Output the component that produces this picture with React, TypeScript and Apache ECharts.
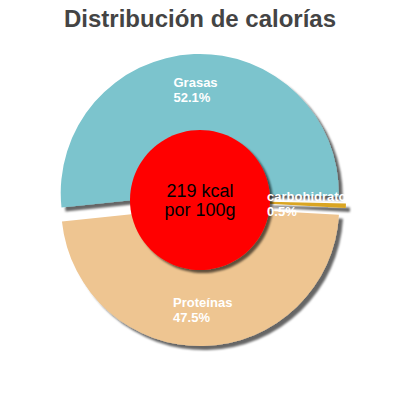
import { useEffect, useRef } from 'react';
import * as echarts from 'echarts';

const titleText = 'Distribución de calorías';
const categories = ['Grasas', 'carbohidratos', 'Proteínas'];
const percentages = [52.1, 0.5, 47.5];
const sliceColors = ['#7bc4cd', '#daa520', '#eec591'];
const centerLines = ['219 kcal', 'por 100g'];

const font = 'Liberation Sans, Arial, sans-serif';

export default function App() {
  const chartRef = useRef<HTMLDivElement>(null);

  useEffect(() => {
    if (!chartRef.current) return;
    const chart = echarts.init(chartRef.current, undefined, { renderer: 'svg' });

    const shadow = {
      shadowBlur: 2,
      shadowOffsetX: 4,
      shadowOffsetY: 4,
      shadowColor: 'rgba(0, 0, 0, 0.6)',
    };

    const labelToken = {
      color: '#fff',
      fontFamily: font,
      fontSize: 13,
      fontWeight: 'bold' as const,
      lineHeight: 15,
      align: 'left' as const,
    };

    const option: echarts.EChartsOption = {
      animation: false,
      backgroundColor: '#fff',
      title: {
        text: titleText,
        left: 'center',
        top: 1,
        textStyle: { fontFamily: font, fontSize: 24, fontWeight: 'bold', color: '#444' },
      },
      series: [
        {
          type: 'pie',
          center: [200, 200],
          radius: [62, 139],
          startAngle: 186,
          clockwise: true,
          selectedMode: 'multiple',
          selectedOffset: 7,
          avoidLabelOverlap: false,
          silent: true,
          emphasis: { disabled: true },
          itemStyle: { ...shadow },
          label: {
            show: true,
            position: 'inside',
            color: '#fff',
            fontFamily: font,
            fontSize: 13,
            fontWeight: 'bold',
            lineHeight: 15,
            formatter: (p: any) => `{t|${p.name}}\n{t|${p.value}%}`,
            rich: { t: labelToken },
          },
          labelLine: { show: false },
          data: categories.map((name, i) => ({
            name,
            value: percentages[i],
            selected: true,
            itemStyle: { color: sliceColors[i] },
          })),
        },
        {
          type: 'pie',
          center: [200, 200],
          radius: [0, 70],
          silent: true,
          emphasis: { disabled: true },
          itemStyle: { color: '#ff0000', ...shadow, shadowOffsetX: 3, shadowOffsetY: 3 },
          label: {
            show: true,
            position: 'center',
            color: '#000',
            fontFamily: font,
            fontSize: 18,
            lineHeight: 19,
            formatter: centerLines.join('\n'),
          },
          labelLine: { show: false },
          data: [{ name: centerLines[0], value: 1 }],
        },
      ],
    };

    chart.setOption(option);
    return () => chart.dispose();
  }, []);

  return (
    <div
      ref={chartRef}
      style={{ position: 'fixed', left: 0, top: 0, width: '400px', height: '400px' }}
    />
  );
}
